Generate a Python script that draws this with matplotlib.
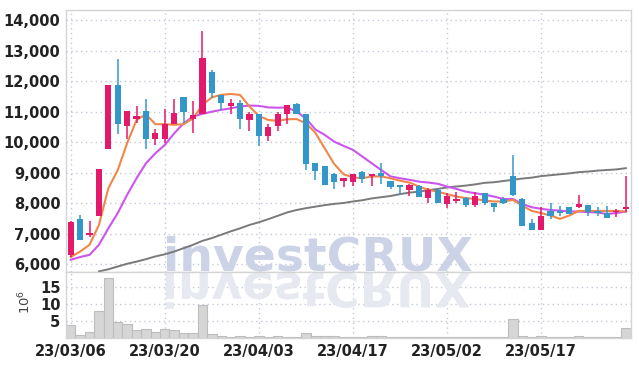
import numpy as np
import matplotlib
matplotlib.use("Agg")
import matplotlib.pyplot as plt
from matplotlib.textpath import TextPath
from matplotlib.patches import PathPatch
from matplotlib.font_manager import FontProperties
from matplotlib import transforms

# Data (prices in won, volume in millions of shares)
date_labels = ["23/03/06", "23/03/20", "23/04/03", "23/04/17", "23/05/02", "23/05/17"]
opens = [6310, 7490, 6970, 7600, 9790, 11870, 10540, 10770, 11020, 10090,
         10090, 10610, 11480, 10770, 10910, 12300, 11540, 11190, 11270, 10730,
         10910, 10200, 10540, 10910, 11240, 10910, 9310, 9220, 8960, 8730,
         8710, 9030, 8880, 8980, 8720, 8600, 8450, 8580, 8160, 8440,
         7980, 8080, 8170, 7930, 8330, 8020, 8130, 8900, 8130, 7350,
         7130, 7750, 7750, 7870, 7890, 7950, 7760, 7690, 7710, 7810]
highs = [7430, 7620, 7430, 9110, 11870, 12710, 11020, 11170, 11400, 10420,
         11080, 11400, 11480, 11340, 13650, 12350, 11540, 11400, 11380, 11000,
         10910, 10590, 11000, 11210, 11270, 10910, 9310, 9220, 9000, 8820,
         8960, 9050, 8960, 9310, 8720, 8600, 8640, 8600, 8490, 8490,
         8350, 8380, 8190, 8380, 8350, 8020, 8220, 9580, 8160, 7480,
         7890, 8000, 7920, 7870, 8280, 7950, 7870, 7920, 7810, 8910]
lows = [6240, 6800, 6890, 7600, 9770, 10260, 10110, 10620, 9780, 9910,
        9990, 10610, 10620, 10290, 10910, 11460, 11060, 10910, 10420, 10380,
        9890, 10050, 10370, 10590, 10910, 9080, 8770, 8590, 8460, 8530,
        8550, 8660, 8570, 8640, 8480, 8280, 8250, 8200, 8000, 8000,
        7840, 8020, 7890, 7890, 7950, 7730, 7970, 8240, 7270, 7110,
        7130, 7490, 7590, 7650, 7840, 7600, 7570, 7510, 7540, 7730]
closes = [7390, 6800, 7040, 9110, 11870, 10610, 11020, 10860, 10120, 10290,
          10590, 10960, 11000, 10890, 12750, 11600, 11300, 11270, 10770, 10910,
          10220, 10490, 10910, 11210, 10910, 9300, 9070, 8610, 8700, 8820,
          8960, 8790, 8960, 8880, 8520, 8520, 8600, 8220, 8440, 8020,
          8240, 8140, 7930, 8240, 8000, 7890, 8020, 8280, 7270, 7130,
          7580, 7600, 7680, 7650, 7980, 7710, 7680, 7530, 7750, 7890]
ma_short = [6240, 6420, 6640, 7290, 8490, 9090, 9970, 10730, 10910, 10590,
            10590, 10570, 10590, 10780, 11220, 11470, 11550, 11580, 11550, 11170,
            10860, 10730, 10700, 10750, 10760, 10620, 10310, 9800, 9290, 8950,
            8850, 8820, 8880, 8880, 8820, 8740, 8680, 8550, 8440, 8380,
            8300, 8220, 8170, 8140, 8090, 8060, 8060, 8110, 7920, 7750,
            7680, 7600, 7490, 7600, 7750, 7750, 7750, 7750, 7750, 7730]
ma_mid = [6150, 6240, 6310, 6640, 7180, 7680, 8280, 8820, 9310, 9640,
          9910, 10290, 10620, 10840, 10930, 11000, 11060, 11110, 11170, 11200,
          11190, 11140, 11130, 11140, 11000, 10780, 10420, 10240, 10020, 9880,
          9750, 9530, 9310, 9090, 8880, 8820, 8770, 8710, 8680, 8640,
          8550, 8470, 8380, 8330, 8280, 8220, 8140, 8140, 7980, 7870,
          7820, 7780, 7760, 7730, 7730, 7710, 7700, 7650, 7680, 7730]
ma_long = [np.nan, np.nan, np.nan, 5770, 5840, 5930, 6020, 6090, 6170, 6260,
           6330, 6420, 6530, 6640, 6770, 6860, 6970, 7080, 7180, 7290,
           7380, 7480, 7590, 7700, 7780, 7840, 7890, 7940, 7980, 8010,
           8060, 8100, 8160, 8200, 8240, 8300, 8350, 8380, 8430, 8470,
           8520, 8550, 8580, 8620, 8670, 8690, 8730, 8770, 8810, 8840,
           8890, 8920, 8950, 8980, 9020, 9040, 9070, 9090, 9110, 9150]
volume = [3.6, 0.8, 1.5, 7.8, 17.5, 4.6, 4.0, 2.3, 2.5, 1.5,
          2.5, 2.2, 1.4, 1.4, 9.6, 1.1, 0.5, 0.2, 0.5, 0.2,
          0.5, 0.2, 0.5, 0.2, 0.2, 1.2, 0.4, 0.5, 0.4, 0.2,
          0.2, 0.2, 0.3, 0.5, 0.2, 0.2, 0.2, 0.2, 0.2, 0.2,
          0.2, 0.2, 0.2, 0.2, 0.2, 0.2, 0.2, 5.6, 0.5, 0.2,
          0.5, 0.2, 0.2, 0.2, 0.5, 0.2, 0.2, 0.2, 0.2, 2.9]

plt.rcParams['font.family'] = ['DejaVu Sans']

up_color = '#e3196b'
down_color = '#3398c9'
grid_color = '#c3c8d8'
edge_color = '#d4d4d4'
label_size = 10.5

W, H = 639, 366
fig = plt.figure(figsize=(W / 100, H / 100), dpi=100)
left, right = 66 / W, 630.5 / W
ax = fig.add_axes([left, 1 - 272 / H, right - left, (272 - 10) / H])
ax_vol = fig.add_axes([left, 1 - 337.5 / H, right - left, (337.5 - 272) / H], sharex=ax)

x = np.arange(len(opens))
o = np.array(opens, float)
c = np.array(closes, float)
is_up = c >= o
colors = np.where(is_up, up_color, down_color)

# candles
ax.vlines(x, lows, highs, colors=colors, linewidth=1.1, zorder=4)
body_bottom = np.minimum(o, c)
body_height = np.maximum(np.abs(c - o), 45)
ax.bar(x, body_height, bottom=body_bottom, width=0.66, color=colors, zorder=5)

# moving averages
ax.plot(x, ma_long, color='#7a7a7a', linewidth=1.4, zorder=3)
ax.plot(x, ma_mid, color='#cc55ee', linewidth=1.5, zorder=3)
ax.plot(x, ma_short, color='#ef874a', linewidth=1.5, zorder=3)

ax.set_xlim(-0.5, len(opens) - 0.5)
ax.set_ylim(5750, 14330)
ax.set_yticks(np.arange(6000, 14001, 1000))
ax.yaxis.set_major_formatter(matplotlib.ticker.FuncFormatter(lambda v, p: format(int(v), ',')))
tick_pos = [0, 10, 20, 30, 40, 50]
ax.set_xticks(tick_pos)
ax.tick_params(axis='x', labelbottom=False, length=0)
ax.tick_params(axis='y', length=0, pad=4, labelsize=label_size, labelcolor='#222222')
for lab in ax.get_yticklabels():
    lab.set_fontweight('bold')
ax.grid(True, color=grid_color, linestyle=(0, (1, 2.5)), linewidth=1)
ax.set_axisbelow(True)

# volume
ax_vol.bar(x, volume, width=1.0, color='#d6d6d6', edgecolor='#bdbdbd', linewidth=0.8, zorder=2)
ax_vol.set_ylim(0, 19.4)
ax_vol.set_yticks([5, 10, 15])
ax_vol.set_xticks(tick_pos)
ax_vol.set_xticklabels(date_labels)
ax_vol.tick_params(length=0, labelsize=label_size, labelcolor='#222222')
ax_vol.tick_params(axis='x', pad=5)
ax_vol.tick_params(axis='y', pad=4)
for lab in ax_vol.get_xticklabels() + ax_vol.get_yticklabels():
    lab.set_fontweight('bold')
ax_vol.grid(True, color=grid_color, linestyle=(0, (1, 2.5)), linewidth=1)
ax_vol.set_axisbelow(True)
ax_vol.set_ylabel(r'$10^6$', fontsize=9.5, color='#444444')
ax_vol.yaxis.set_label_coords(-0.058, 0.55)

for a in (ax, ax_vol):
    for s in a.spines.values():
        s.set_color(edge_color)
        s.set_linewidth(1)

# watermark with reflection
wm_size = 34
wm_font = FontProperties(family='DejaVu Sans', weight='bold', size=wm_size)
ax.text(0.446, 0.004, 'investCRUX', transform=ax.transAxes, ha='center', va='baseline',
        fontproperties=wm_font, color='#cdd3e6', zorder=1)
tp = TextPath((0, 0), 'investCRUX', prop=FontProperties(family='DejaVu Sans', weight='bold',
                                                         size=wm_size * 100 / 72))
ext = tp.get_extents()
x0 = 66 + 0.446 * (630.5 - 66) - (ext.x0 + ext.x1) / 2
flip = transforms.Affine2D().scale(1, -1).translate(x0, H - 272 - 1)
ax_vol.add_patch(PathPatch(tp, transform=flip, facecolor='#e7e9f1', edgecolor='none', zorder=1))

fig.savefig('out.png', dpi=100)
